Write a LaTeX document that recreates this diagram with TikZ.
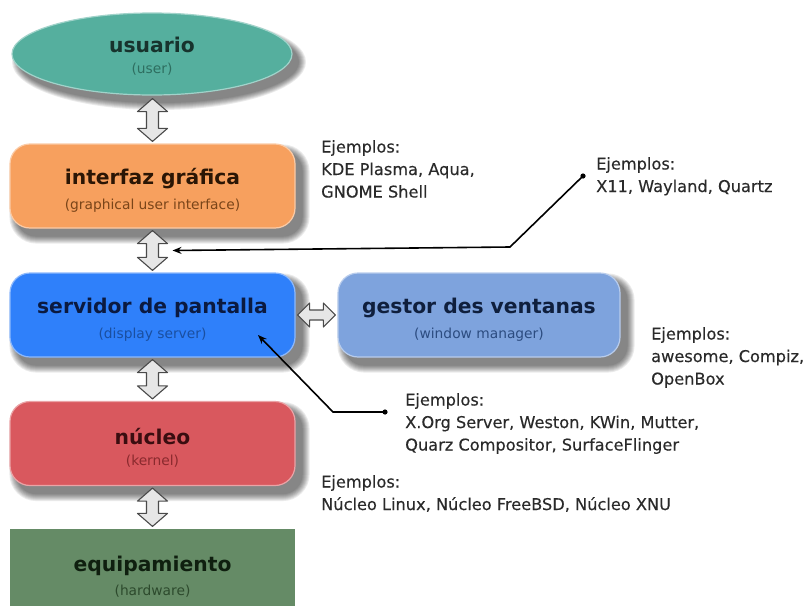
\documentclass[tikz,border=0pt]{standalone}
\usepackage{fontspec}
\setmainfont{DejaVu Sans}
\newfontfamily\notefam[FakeBold=0.3]{DejaVu Sans}
\usetikzlibrary{arrows.meta,calc,shapes.geometric}
\pgfdeclarelayer{shadowlayer}
\pgfsetlayers{shadowlayer,main}

\definecolor{tealc}{HTML}{55AF9E}
\definecolor{orangec}{HTML}{F7A05E}
\definecolor{bluec}{HTML}{2F80FA}
\definecolor{lbluec}{HTML}{7EA3DD}
\definecolor{redc}{HTML}{D9585E}
\definecolor{greenc}{HTML}{658B66}
\definecolor{notec}{HTML}{2A2A2A}
\definecolor{arrowfill}{HTML}{E6E6E6}
\definecolor{arrowline}{HTML}{4A4A4A}

\newcommand{\titlef}{\fontsize{20.3}{23}\bfseries\selectfont}
\newcommand{\subf}{\fontsize{13.8}{15}\selectfont}
% #1 title colour, #2 title, #3 subtitle colour, #4 subtitle, #5 strut height
\newcommand{\boxtext}[5]{{\color[HTML]{#1}\titlef\rule{0pt}{#5}#2}\\[9pt]{\color[HTML]{#3}\subf #4}}

\tikzset{
  boxst/.style={rounded corners=20pt, minimum width=285pt, minimum height=84pt,
    inner sep=0pt, align=center, line width=1.2pt},
  notest/.style={anchor=north west, inner sep=0pt, align=left, text=notec,
    font=\notefam\fontsize{16.2}{22.5}\selectfont},
  darrow/.style={fill=arrowfill, draw=arrowline, line width=1.1pt, line join=round},
  conn/.style={draw=black, line width=1.6pt, -{Stealth[length=9pt,width=7pt]}}
}

\newcommand{\boxshadow}[2]{%
  \begin{pgfonlayer}{shadowlayer}
  \foreach \k in {0,...,7}{
    \fill[black, opacity=0.08, rounded corners={(#2+\k)*1pt}]
      ($(#1.north west)+(7-\k,8-\k)$) rectangle ($(#1.south east)+(7+\k,8+\k)$);
  }
  \end{pgfonlayer}}

\newcommand{\vdarrow}[2]{%
  \draw[darrow] let \p1=(#1), \p2=(#2) in
    (\x1,\y1) -- (\x1+15pt,\y1-13pt) -- (\x1+6pt,\y1-13pt) -- (\x1+6pt,\y2+13pt)
    -- (\x1+15pt,\y2+13pt) -- (\x1,\y2) -- (\x1-15pt,\y2+13pt) -- (\x1-6pt,\y2+13pt)
    -- (\x1-6pt,\y1-13pt) -- (\x1-15pt,\y1-13pt) -- cycle;}

\newcommand{\hdarrow}[2]{%
  \draw[darrow] let \p1=(#1), \p2=(#2) in
    (\x1,\y1) -- (\x1+12pt,\y1+12pt) -- (\x1+12pt,\y1+5pt) -- (\x2-12pt,\y1+5pt)
    -- (\x2-12pt,\y1+12pt) -- (\x2,\y1) -- (\x2-12pt,\y1-12pt) -- (\x2-12pt,\y1-5pt)
    -- (\x1+12pt,\y1-5pt) -- (\x1+12pt,\y1-12pt) -- cycle;}

\begin{document}
\begin{tikzpicture}[x=1pt,y=-1pt]
\useasboundingbox (0,0) rectangle (811,605);

% main nodes
\node[ellipse, fill=tealc, draw=tealc!55!white, line width=1.2pt,
  minimum width=280pt, minimum height=82pt, inner sep=0pt, align=center] (u) at (152,54)
  {\boxtext{17332D}{usuario}{2E6E60}{(user)}{19pt}};
\node[boxst, fill=orangec, draw=orangec!55!white] (g) at (152.5,186)
  {\boxtext{2B1605}{interfaz gráfica}{7A4519}{(graphical user interface)}{24pt}};
\node[boxst, fill=bluec, draw=bluec!55!white] (s) at (152.5,315)
  {\boxtext{0B1A40}{servidor de pantalla}{1A4FA0}{(display server)}{25pt}};
\node[boxst, fill=lbluec, draw=lbluec!55!white, minimum width=282pt] (w) at (479,315)
  {\boxtext{0F1F3D}{gestor des ventanas}{2C4C80}{(window manager)}{25pt}};
\node[boxst, fill=redc, draw=redc!55!white] (n) at (152.5,443.5)
  {\boxtext{3A0D10}{núcleo}{8A2A2E}{(kernel)}{24pt}};
\node[boxst, rounded corners=0pt, fill=greenc, draw=none] (e) at (152.5,571)
  {\boxtext{0F1F0F}{equipamiento}{2D4A2D}{(hardware)}{27pt}};

% shadows
\begin{pgfonlayer}{shadowlayer}
\foreach \k [evaluate=\k as \rx using 140+\k, evaluate=\k as \ry using 41+\k] in {0,...,7}{
  \fill[black, opacity=0.08] ($(u.center)+(7,8)$) ellipse [x radius=\rx pt, y radius=\ry pt];
}
\end{pgfonlayer}
\boxshadow{g}{20}
\boxshadow{s}{20}
\boxshadow{w}{20}
\boxshadow{n}{20}

% double arrows
\vdarrow{$(u.south)+(0.5,3)$}{$(g.north)+(0,-2)$}
\vdarrow{$(g.south)+(0,2)$}{$(s.north)+(0,-2)$}
\vdarrow{$(s.south)+(0,2)$}{$(n.north)+(0,-2)$}
\vdarrow{$(n.south)+(0,2)$}{$(e.north)+(0,-2)$}
\hdarrow{$(s.east)+(2,0)$}{$(w.west)+(-2,0)$}

% notes
\node[notest] (na) at (321,140) {Ejemplos:\\KDE Plasma, Aqua,\\GNOME Shell};
\node[notest] (nb) at (596,157) {Ejemplos:\\X11, Wayland, Quartz};
\node[notest] (nc) at (651,327) {Ejemplos:\\awesome, Compiz,\\OpenBox};
\node[notest] (nd) at (405,393) {Ejemplos:\\X.Org Server, Weston, KWin, Mutter,\\Quarz Compositor, SurfaceFlinger};
\node[notest] (ne) at (321,475) {Ejemplos:\\Núcleo Linux, Núcleo FreeBSD, Núcleo XNU};

% pointer connectors
\coordinate (gs) at ($(g.south)!0.5!(s.north)$);
\coordinate (tipB) at ($(gs)+(20,0)$);
\coordinate (dotB) at (583,176);
\coordinate (tipD) at (258,335);
\coordinate (dotD) at (385,412);
\draw[conn] (dotB) -- (510,247) -- (tipB);
\fill (dotB) circle (2.6pt);
\draw[conn] (dotD) -- (333,412) -- (tipD);
\fill (dotD) circle (2.6pt);
\end{tikzpicture}
\end{document}
